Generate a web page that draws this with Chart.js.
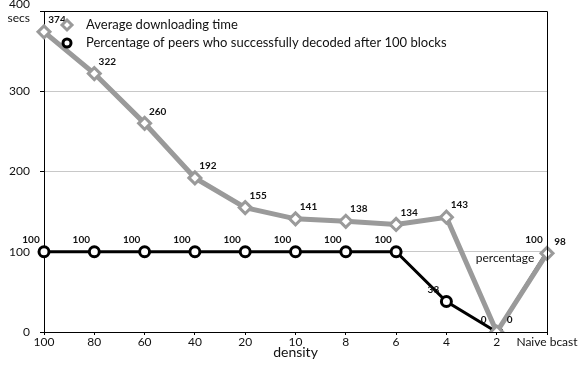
<!DOCTYPE html>
<html><head><meta charset="utf-8">
<script src="https://cdn.jsdelivr.net/npm/chart.js@4/dist/chart.umd.min.js"></script>
<style>html,body{margin:0;padding:0;background:#fff;}#wrap{width:581px;height:373px;}</style>
</head><body><div id="wrap"><canvas id="c" width="581" height="373"></canvas></div>
<script>
const categories = ["100","80","60","40","20","10","8","6","4","2","Naive bcast"];
const avgDownloadTime = [374,322,260,192,155,141,138,134,143,0,98];
const pctDecoded = [100,100,100,100,100,100,100,100,38,0,100];
const yTicks = [0,100,200,300,400];
const seriesNames = ["Average downloading time","Percentage of peers who successfully decoded after 100 blocks"];
const FONT = "Lato, 'Open Sans', sans-serif";
const GRAY = "#9a9a9a";

const overlay = {
  id:'overlay',
  afterDatasetsDraw(chart){
    const ctx = chart.ctx, a = chart.chartArea;
    ctx.save();
    ctx.strokeStyle = '#000'; ctx.lineWidth = 1;
    ctx.beginPath();
    ctx.moveTo(a.left, a.top+0.5); ctx.lineTo(a.right+0.5, a.top+0.5); ctx.lineTo(a.right+0.5, a.bottom);
    ctx.stroke();
    ctx.font = "bold 10px " + FONT; ctx.fillStyle = '#111';
    ctx.textAlign = 'center'; ctx.textBaseline = 'middle';
    const m0 = chart.getDatasetMeta(0), m1 = chart.getDatasetMeta(1);
    m0.data.forEach((p,i)=>{ ctx.fillText(String(avgDownloadTime[i]), p.x+13, p.y-12); });
    m1.data.forEach((p,i)=>{ ctx.fillText(String(pctDecoded[i]), p.x-13, p.y-12); });
    ctx.font = "12px " + FONT; ctx.fillStyle = '#111';
    ctx.fillText("percentage", 505, 258);
    const lx = 67;
    ctx.lineWidth = 3;
    ctx.strokeStyle = GRAY; ctx.fillStyle = '#fff';
    ctx.beginPath(); ctx.moveTo(lx, 25-5); ctx.lineTo(lx+5,25); ctx.lineTo(lx,25+5); ctx.lineTo(lx-5,25); ctx.closePath();
    ctx.fill(); ctx.stroke();
    ctx.strokeStyle = '#000';
    ctx.beginPath(); ctx.arc(lx, 43, 4, 0, Math.PI*2); ctx.fill(); ctx.stroke();
    ctx.fillStyle = '#111'; ctx.font = "13px " + FONT; ctx.textAlign = 'left';
    ctx.fillText(seriesNames[0], 86, 25);
    ctx.fillText(seriesNames[1], 86, 43);
    ctx.restore();
  }
};

new Chart(document.getElementById('c'), {
  type:'line',
  data:{
    labels: categories,
    datasets:[
      {label: seriesNames[0], data: avgDownloadTime, borderColor: GRAY, borderWidth: 5,
       pointStyle:'rectRot', pointRadius:6, pointBorderWidth:3, pointBackgroundColor:'#fff', pointBorderColor: GRAY,
       tension:0, order:1},
      {label: seriesNames[1], data: pctDecoded, borderColor:'#000', borderWidth:3,
       pointStyle:'circle', pointRadius:(c)=> c.dataIndex===categories.length-1 ? 0 : 5,
       pointBorderWidth:3, pointBackgroundColor:'#fff', pointBorderColor:'#000',
       tension:0, order:2}
    ]
  },
  options:{
    responsive:false, animation:false, devicePixelRatio:1,
    layout:{padding:{left:0,right:34,top:11,bottom:0}},
    plugins:{legend:{display:false}, tooltip:{enabled:false}},
    scales:{
      x:{
        offset:false,
        grid:{display:true, drawOnChartArea:false, color:'#000', tickLength:3},
        border:{color:'#000', width:1},
        ticks:{font:{family:FONT,size:12}, color:'#111', maxRotation:0, autoSkip:false, padding:0},
        title:{display:true, text:'density', font:{family:FONT,size:14}, color:'#111', padding:{top:-4,bottom:12}},
        afterFit(s){ s.height = 41; s.paddingLeft = 0; s.paddingRight = 0; }
      },
      y:{
        min:0, max:400,
        afterBuildTicks(s){ s.ticks = yTicks.map(v=>({value:v})); },
        grid:{color:(c)=> (c.tick && (c.tick.value===0||c.tick.value===400)) ? 'rgba(0,0,0,0)' : '#c8c8c8', tickLength:4, tickColor:'#000', lineWidth:1},
        border:{color:'#000', width:1},
        ticks:{font:{family:FONT,size:12, lineHeight:1.15}, color:'#111', padding:10,
          callback:(v)=> v===400 ? ['400','secs'] : String(v)},
        afterFit(s){ s.width = 44; s.paddingTop = 0; s.paddingBottom = 0; }
      }
    }
  },
  plugins:[overlay]
});
</script>
</body></html>
